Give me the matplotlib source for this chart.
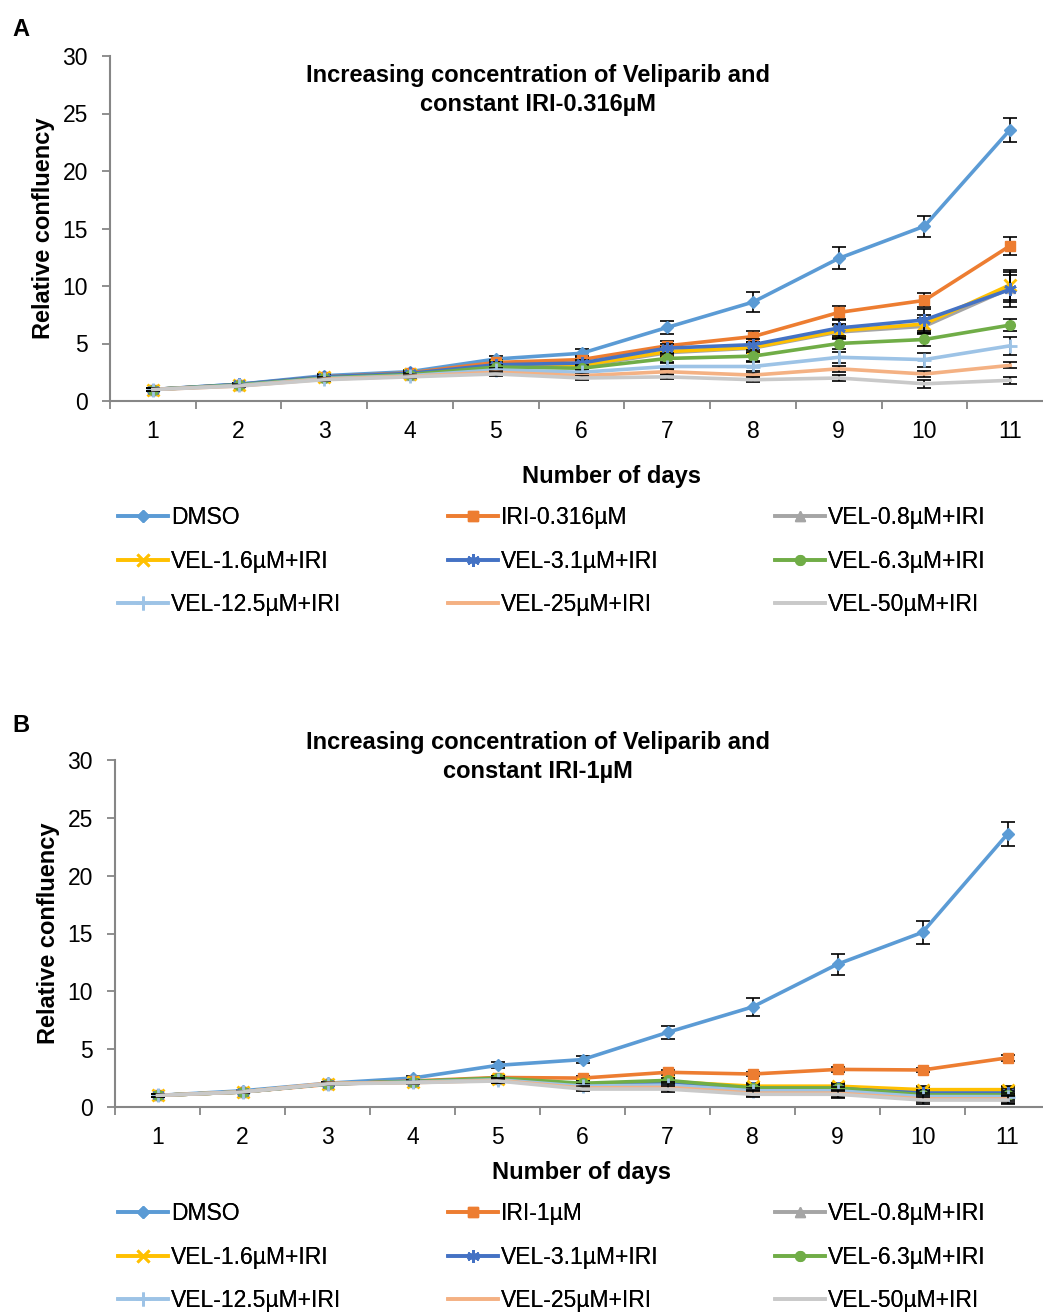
import matplotlib
matplotlib.use("Agg")
import matplotlib.pyplot as plt

plt.rcParams['font.family'] = ['Liberation Sans', 'DejaVu Sans']

days = [1, 2, 3, 4, 5, 6, 7, 8, 9, 10, 11]

labels_a = ["DMSO", "IRI-0.316µM", "VEL-0.8µM+IRI", "VEL-1.6µM+IRI", "VEL-3.1µM+IRI",
            "VEL-6.3µM+IRI", "VEL-12.5µM+IRI", "VEL-25µM+IRI", "VEL-50µM+IRI"]
labels_b = ["DMSO", "IRI-1µM", "VEL-0.8µM+IRI", "VEL-1.6µM+IRI", "VEL-3.1µM+IRI",
            "VEL-6.3µM+IRI", "VEL-12.5µM+IRI", "VEL-25µM+IRI", "VEL-50µM+IRI"]

# panel A - constant IRI 0.316uM
dmso_a = [1.0, 1.45, 2.2, 2.55, 3.65, 4.15, 6.4, 8.6, 12.4, 15.2, 23.6]
iri_a = [1.0, 1.4, 2.1, 2.45, 3.35, 3.6, 4.8, 5.6, 7.7, 8.75, 13.5]
vel08_a = [1.0, 1.4, 2.05, 2.3, 3.0, 3.0, 4.2, 4.6, 6.0, 6.5, 9.8]
vel16_a = [1.0, 1.4, 2.05, 2.35, 3.05, 3.1, 4.3, 4.65, 6.1, 6.7, 10.1]
vel31_a = [1.0, 1.45, 2.1, 2.4, 3.15, 3.3, 4.6, 4.9, 6.35, 7.05, 9.7]
vel63_a = [1.0, 1.4, 2.0, 2.3, 2.95, 2.85, 3.7, 3.9, 5.0, 5.35, 6.6]
vel125_a = [1.0, 1.35, 1.95, 2.2, 2.7, 2.5, 3.0, 3.0, 3.8, 3.6, 4.8]
vel25_a = [1.0, 1.3, 1.9, 2.15, 2.5, 2.2, 2.55, 2.25, 2.8, 2.35, 3.1]
vel50_a = [1.0, 1.3, 1.85, 2.1, 2.35, 2.0, 2.1, 1.85, 2.0, 1.5, 1.8]

err_dmso_a = [0.1, 0.12, 0.15, 0.15, 0.25, 0.35, 0.6, 0.85, 0.95, 0.9, 1.05]
err_iri_a = [0.1, 0.1, 0.12, 0.15, 0.2, 0.3, 0.4, 0.5, 0.55, 0.6, 0.8]
err_vel08_a = [0.1, 0.1, 0.12, 0.15, 0.2, 0.25, 0.4, 0.45, 0.6, 0.7, 1.2]
err_vel16_a = [0.1, 0.1, 0.12, 0.15, 0.2, 0.25, 0.4, 0.5, 0.6, 0.8, 1.3]
err_vel31_a = [0.1, 0.1, 0.12, 0.15, 0.2, 0.25, 0.4, 0.5, 0.7, 0.95, 1.5]
err_vel63_a = [0.1, 0.1, 0.1, 0.12, 0.2, 0.25, 0.35, 0.4, 0.5, 0.55, 0.5]
err_vel125_a = [0.1, 0.1, 0.1, 0.12, 0.2, 0.2, 0.3, 0.4, 0.5, 0.6, 0.8]
err_vel25_a = [0.1, 0.1, 0.1, 0.1, 0.15, 0.15, 0.2, 0.2, 0.25, 0.3, 0.25]
err_vel50_a = [0.1, 0.1, 0.1, 0.1, 0.15, 0.15, 0.2, 0.2, 0.25, 0.35, 0.3]

# panel B - constant IRI 1uM
dmso_b = [1.0, 1.4, 2.05, 2.5, 3.6, 4.1, 6.45, 8.65, 12.35, 15.1, 23.6]
iri_b = [1.0, 1.3, 1.95, 2.25, 2.55, 2.5, 3.0, 2.85, 3.25, 3.2, 4.25]
vel08_b = [1.0, 1.3, 2.0, 2.15, 2.4, 1.9, 2.1, 1.7, 1.7, 1.35, 1.35]
vel16_b = [1.0, 1.3, 2.0, 2.2, 2.45, 2.0, 2.2, 1.8, 1.8, 1.5, 1.5]
vel31_b = [1.0, 1.3, 2.0, 2.2, 2.45, 1.95, 2.15, 1.6, 1.6, 1.2, 1.2]
vel63_b = [1.0, 1.3, 2.0, 2.2, 2.5, 2.05, 2.3, 1.65, 1.65, 1.05, 1.05]
vel125_b = [1.0, 1.3, 2.0, 2.15, 2.35, 1.8, 1.9, 1.4, 1.4, 0.9, 0.9]
vel25_b = [1.0, 1.3, 2.05, 2.1, 2.3, 1.65, 1.7, 1.2, 1.2, 0.7, 0.7]
vel50_b = [1.0, 1.3, 2.0, 2.1, 2.25, 1.55, 1.55, 1.1, 1.1, 0.6, 0.6]

err_dmso_b = [0.1, 0.1, 0.15, 0.15, 0.25, 0.3, 0.55, 0.8, 0.9, 1.0, 1.05]
err_iri_b = [0.1, 0.1, 0.1, 0.1, 0.15, 0.15, 0.2, 0.2, 0.2, 0.2, 0.25]
err_vel_b = [0.1, 0.1, 0.1, 0.1, 0.2, 0.2, 0.25, 0.25, 0.3, 0.3, 0.35]

colors = ['#5B9BD5', '#ED7D31', '#A5A5A5', '#FFC000', '#4472C4',
          '#70AD47', '#9DC3E6', '#F4B183', '#C9C9C9']
markers = ['D', 's', '^', 'x', (6, 2, 0), 'o', '+', None, None]
msizes = [6, 7, 7, 8, 9, 7, 10, 0, 0]

series_a = [dmso_a, iri_a, vel08_a, vel16_a, vel31_a, vel63_a, vel125_a, vel25_a, vel50_a]
errs_a = [err_dmso_a, err_iri_a, err_vel08_a, err_vel16_a, err_vel31_a,
          err_vel63_a, err_vel125_a, err_vel25_a, err_vel50_a]
series_b = [dmso_b, iri_b, vel08_b, vel16_b, vel31_b, vel63_b, vel125_b, vel25_b, vel50_b]
errs_b = [err_dmso_b, err_iri_b] + [err_vel_b] * 7

W, H = 1043, 1315
fig = plt.figure(figsize=(W / 100, H / 100), dpi=100)
AXC = '#868686'


def panel(rect, series, errs, labels, title, title_y, xlab_x, xlab_y, leg_y, letter, letter_y):
    x0, y0, x1, y1 = rect
    ax = fig.add_axes([x0 / W, 1 - y1 / H, (x1 - x0) / W, (y1 - y0) / H])
    handles = []
    for i, (y, e) in enumerate(zip(series, errs)):
        ax.errorbar(days, y, yerr=e, fmt='none', ecolor='black', elinewidth=1.2,
                     capsize=5, capthick=1.2, zorder=2 + i * 2)
        ln, = ax.plot(days, y, color=colors[i], lw=2.6, marker=markers[i],
                      ms=msizes[i], mew=2 if markers[i] in ('x', '+', (6, 2, 0)) else 1,
                      mec=colors[i], mfc=colors[i], zorder=3 + i * 2, label=labels[i])
        handles.append(ln)
    ax.set_xlim(0.5, 11.5)
    ax.set_ylim(0, 30)
    ax.set_yticks([0, 5, 10, 15, 20, 25, 30])
    ax.set_xticks(days)
    ax.set_xticks([d + 0.5 for d in [0] + days], minor=True)
    ax.tick_params(axis='x', which='major', length=0, pad=14, labelsize=16.5)
    ax.tick_params(axis='x', which='minor', length=6, width=1.3, color=AXC, direction='out')
    ax.tick_params(axis='y', length=6, width=1.3, color=AXC, pad=10, labelsize=16.5)
    for s in ['top', 'right']:
        ax.spines[s].set_visible(False)
    for s in ['left', 'bottom']:
        ax.spines[s].set_color(AXC)
        ax.spines[s].set_linewidth(1.5)
    ax.set_ylabel("Relative confluency", fontsize=17, fontweight='bold', labelpad=5)
    fig.text(xlab_x / W, 1 - xlab_y / H, "Number of days", fontsize=17, fontweight='bold',
             ha='center', va='center')
    fig.text(538 / W, 1 - title_y / H, title, fontsize=17, fontweight='bold',
             ha='center', va='center', linespacing=1.3)
    fig.text(12 / W, 1 - letter_y / H, letter, fontsize=17, fontweight='bold',
             ha='left', va='center')
    # three legend columns, row-major like the original
    for c, lx in enumerate([118, 448, 775]):
        leg = fig.legend(handles=handles[c::3], loc='upper left',
                         bbox_to_anchor=(lx / W, 1 - leg_y / H), frameon=False,
                         fontsize=16.5, handlelength=2.2, handletextpad=0.1,
                         labelspacing=0.9, borderpad=0, borderaxespad=0)
        fig.add_artist(leg)
    return ax


panel((110, 56, 1053, 401), series_a, errs_a, labels_a,
      "Increasing concentration of Veliparib and\nconstant IRI-0.316µM",
      90, 611, 476, 506, "A", 30)
panel((115, 760, 1050, 1107), series_b, errs_b, labels_b,
      "Increasing concentration of Veliparib and\nconstant IRI-1µM",
      757, 582, 1172, 1202, "B", 725)

fig.savefig("out.png", dpi=100)
